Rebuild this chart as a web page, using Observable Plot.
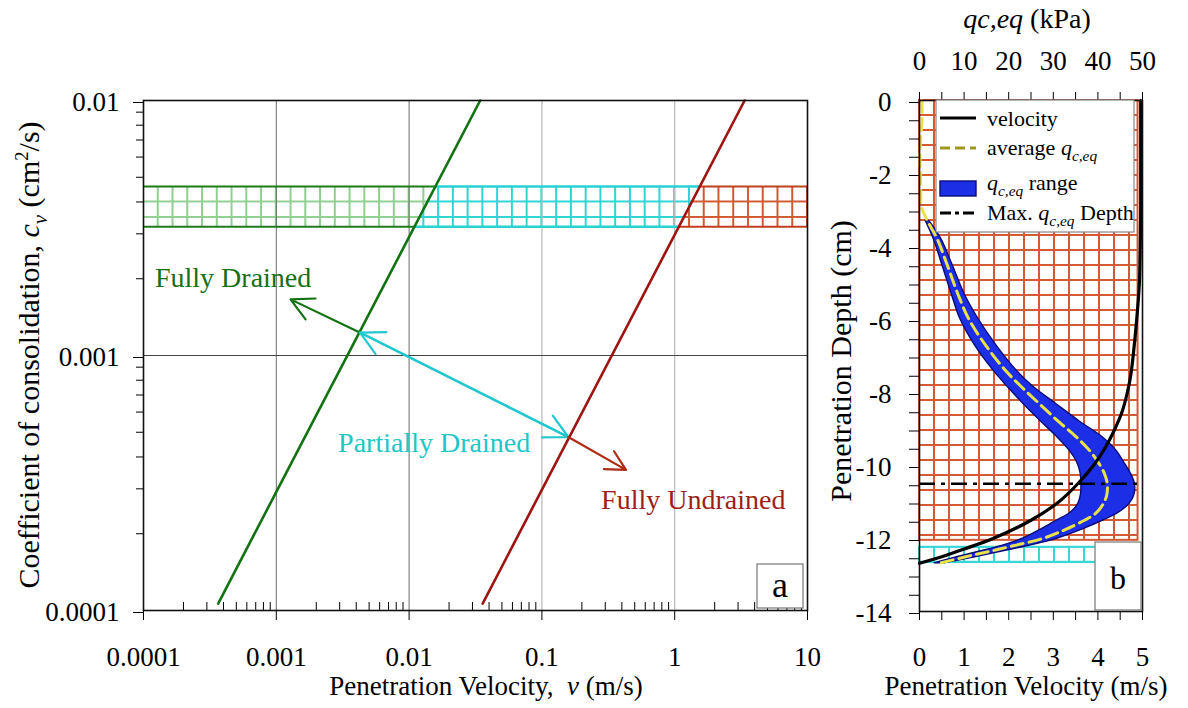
<!DOCTYPE html>
<html><head><meta charset="utf-8">
<script src="https://cdn.jsdelivr.net/npm/d3@7"></script>
<script src="https://cdn.jsdelivr.net/npm/@observablehq/plot@0.6"></script>
<style>
body{margin:0;background:#fff;}
#wrap{position:relative;width:1188px;height:708px;overflow:hidden;background:#fff;}
#wrap svg{position:absolute;top:0;}
</style></head><body><div id="wrap"></div>
<script>
// ---------------- Panel (a) data ----------------
const vTicks = [0.0001, 0.001, 0.01, 0.1, 1, 10];
const vTickLabels = ["0.0001", "0.001", "0.01", "0.1", "1", "10"];
const cvTicks = [0.0001, 0.001, 0.01];
const cvTickLabels = ["0.0001", "0.001", "0.01"];
const drainedLineV = [0.000365, 0.0343];
const drainedLineCv = [0.0001065, 0.01];
const undrainedLineV = [0.0358, 3.36];
const undrainedLineCv = [0.0001065, 0.01];
const bandCv = [0.0032, 0.0046];
const gridDarkV = [0.001, 0.01];
const gridLightV = [0.1, 1];
const gridCv = [0.001];
const annotationLabels = ["Fully Drained", "Partially Drained", "Fully Undrained"];
const annotationV = [0.000122, 0.00292, 0.279];
const annotationCv = [0.00202, 0.000452, 0.00027];
const annotationColors = ["#167016", "#22c6c6", "#a01e18"];
const arrowColorKey = ["green", "cyan", "cyan", "red"];
const arrowV1 = [0.00414, 0.00427, 0.158, 0.158];
const arrowCv1 = [0.00124, 0.00123, 0.000479, 0.000479];
const arrowV2 = [0.00128, 0.158, 0.00427, 0.43];
const arrowCv2 = [0.00166, 0.000479, 0.00123, 0.000356];

// ---------------- Panel (b) data ----------------
const velTicks = [0, 1, 2, 3, 4, 5];
const velTickLabels = ["0", "1", "2", "3", "4", "5"];
const qcTickLabels = ["0", "10", "20", "30", "40", "50"];
const qcPerVelocityUnit = 10;
const depthTicks = [0, -2, -4, -6, -8, -10, -12, -14];
const depthTickLabels = ["0", "-2", "-4", "-6", "-8", "-10", "-12", "-14"];
const velDepth = [0, -1, -2, -3, -4, -5, -6, -7, -7.5, -8, -8.5, -9, -9.5, -10, -10.5, -11, -11.5, -12, -12.3, -12.5, -12.68];
const velocity = [4.96, 4.96, 4.96, 4.96, 4.95, 4.93, 4.87, 4.79, 4.74, 4.66, 4.55, 4.38, 4.17, 3.9, 3.55, 3.12, 2.5, 1.65, 0.97, 0.5, 0];
const qcDepth = [0, -0.5, -1, -1.5, -2, -2.5, -2.9, -3.3, -3.8, -4.5, -5.3, -6, -6.7, -7.4, -7.85, -8.3, -8.8, -9.2, -9.6, -9.9, -10.2, -10.5, -10.8, -11.05, -11.3, -11.5, -11.75, -12, -12.2, -12.35, -12.5, -12.68];
const qcAverage = [0.5, 0.6, 0.3, 0.1, 0.2, 0.3, 0.4, 1.8, 4.0, 6.2, 8.6, 11.1, 14.8, 19.3, 22.9, 26.8, 31.2, 35.0, 38.2, 40.0, 41.4, 42.1, 42.0, 41.2, 39.6, 37.0, 32.8, 27.6, 21.0, 15.8, 10.4, 4.4];
const rangeDepth = [-3.3, -3.8, -4.5, -5.3, -6, -6.7, -7.4, -7.85, -8.3, -8.8, -9.2, -9.6, -9.9, -10.2, -10.5, -10.8, -11.05, -11.3, -11.5, -11.75, -12, -12.2, -12.35, -12.5, -12.68];
const qcLow = [1.4, 3.2, 5.1, 7.2, 9.2, 12.4, 16.6, 19.8, 23.2, 27.3, 30.7, 33.7, 35.3, 36.1, 36.3, 36.2, 35.6, 33.8, 30.9, 27.3, 23.3, 18.5, 13.8, 8.8, 3.4];
const qcHigh = [2.2, 4.9, 7.4, 10.1, 13.3, 17.2, 21.8, 25.6, 30.5, 36.0, 40.8, 44.2, 45.8, 47.3, 48.3, 48.2, 47.1, 44.6, 41.3, 36.6, 31.0, 24.6, 18.8, 13.0, 5.6];
const maxQcDepth = -10.5;
const zoneTop = [0, -12.24];
const zoneBottom = [-12.05, -12.66];
const zoneVmax = [4.9, 4.9];

// ---------------- helpers ----------------
const FONT = '"Liberation Serif", "Times New Roman", serif';
const NS = "http://www.w3.org/2000/svg";
const wrap = document.getElementById("wrap");

function addHatch(svg, id, color, x0, y0, w, h, sw) {
  let defs = svg.querySelector("defs");
  if (!defs) { defs = document.createElementNS(NS, "defs"); svg.insertBefore(defs, svg.firstChild); }
  const p = document.createElementNS(NS, "pattern");
  p.setAttribute("id", id);
  p.setAttribute("patternUnits", "userSpaceOnUse");
  p.setAttribute("x", x0 - sw / 2); p.setAttribute("y", y0 - sw / 2);
  p.setAttribute("width", w); p.setAttribute("height", h);
  const path = document.createElementNS(NS, "path");
  path.setAttribute("d", `M${sw / 2},0V${h}M0,${sw / 2}H${w}`);
  path.setAttribute("stroke", color); path.setAttribute("stroke-width", sw); path.setAttribute("fill", "none");
  p.appendChild(path); defs.appendChild(p);
}

function richText(svg, x, y, parts, {size, anchor = "middle", rotate = 0, fill = "#000"}) {
  const t = d3.select(svg).append("text").attr("x", x).attr("y", y).attr("text-anchor", anchor)
    .attr("font-family", FONT).attr("font-size", size).attr("fill", fill).style("white-space", "pre");
  if (rotate) t.attr("transform", `rotate(${rotate},${x},${y})`);
  let shift = 0;
  for (const p of parts) {
    const s = t.append("tspan").text(p.t);
    let target = 0, fs = size;
    if (p.sub) { target = size * 0.28; fs = size * 0.7; }
    if (p.sup) { target = -size * 0.38; fs = size * 0.62; }
    s.attr("font-size", fs);
    if (target !== shift) { s.attr("dy", target - shift); shift = target; }
    if (p.i) s.attr("font-style", "italic");
  }
  return t;
}

// ---------------- Panel (a) ----------------
const logInterp = (xs, ys) => (y) => {
  const t = (Math.log10(y) - Math.log10(ys[0])) / (Math.log10(ys[1]) - Math.log10(ys[0]));
  return 10 ** (Math.log10(xs[0]) + t * (Math.log10(xs[1]) - Math.log10(xs[0])));
};
const drainedAt = logInterp(drainedLineV, drainedLineCv);
const undrainedAt = logInterp(undrainedLineV, undrainedLineCv);
const vMin = vTicks[0], vMax = vTicks[vTicks.length - 1];
const bandRows = bandCv.map(cv => ({cv, a: vMin, b: drainedAt(cv), c: undrainedAt(cv), d: vMax}));
const drainedLine = drainedLineV.map((v, i) => ({v, cv: drainedLineCv[i]}));
const undrainedLine = undrainedLineV.map((v, i) => ({v, cv: undrainedLineCv[i]}));
const annotations = annotationLabels.map((t, i) => ({t, v: annotationV[i], cv: annotationCv[i], color: annotationColors[i]}));
const arrows = arrowColorKey.map((k, i) => ({k, x1: arrowV1[i], y1: arrowCv1[i], x2: arrowV2[i], y2: arrowCv2[i]}));
const minorV = [];
for (let e = -4; e < 1; e++) for (let m = 2; m <= 9; m++) minorV.push(m * 10 ** e);
const minorCv = [];
for (let e = -4; e < -2; e++) for (let m = 2; m <= 9; m++) minorCv.push(m * 10 ** e);

const AW = 830, AH = 708, AL = 143, AR = 23, AT = 100, AB = 98;
const plotA = Plot.plot({
  width: AW, height: AH, marginLeft: AL, marginRight: AR, marginTop: AT, marginBottom: AB,
  style: {fontFamily: FONT, fontSize: "27px", color: "#000", background: "transparent", overflow: "visible"},
  x: {type: "log", domain: [vMin, vMax], label: null},
  y: {type: "log", domain: [cvTicks[0], cvTicks[cvTicks.length - 1]], label: null},
  marks: [
    Plot.areaX(bandRows, {y: "cv", x1: "a", x2: "b", fill: "url(#hatchA-green)"}),
    Plot.areaX(bandRows, {y: "cv", x1: "b", x2: "c", fill: "url(#hatchA-cyan)"}),
    Plot.areaX(bandRows, {y: "cv", x1: "c", x2: "d", fill: "url(#hatchA-red)"}),
    Plot.ruleX(gridDarkV, {stroke: "#6a6a6a", strokeWidth: 1}),
    Plot.ruleX(gridLightV, {stroke: "#b8b8b8", strokeWidth: 1.2}),
    Plot.ruleY(gridCv, {stroke: "#444", strokeWidth: 1}),
    Plot.ruleY(bandRows, {y: "cv", x1: "a", x2: "b", stroke: "#1d7a1d", strokeWidth: 2}),
    Plot.ruleY(bandRows, {y: "cv", x1: "b", x2: "c", stroke: "#28d2d2", strokeWidth: 2.5}),
    Plot.ruleY(bandRows, {y: "cv", x1: "c", x2: "d", stroke: "#c0401e", strokeWidth: 2}),
    Plot.line(drainedLine, {x: "v", y: "cv", stroke: "#127212", strokeWidth: 2.6}),
    Plot.line(undrainedLine, {x: "v", y: "cv", stroke: "#9e1410", strokeWidth: 2.6}),
    Plot.arrow(arrows.filter(d => d.k === "green"), {x1: "x1", y1: "y1", x2: "x2", y2: "y2", stroke: "#127212", strokeWidth: 2.2, headLength: 18, headAngle: 55}),
    Plot.arrow(arrows.filter(d => d.k === "cyan"), {x1: "x1", y1: "y1", x2: "x2", y2: "y2", stroke: "#22c8d0", strokeWidth: 2.2, headLength: 18, headAngle: 55}),
    Plot.arrow(arrows.filter(d => d.k === "red"), {x1: "x1", y1: "y1", x2: "x2", y2: "y2", stroke: "#b02a14", strokeWidth: 2.2, headLength: 18, headAngle: 55}),
    Plot.text(annotations, {x: "v", y: "cv", text: "t", fill: "color", textAnchor: "start", fontSize: 28}),
    Plot.ruleX(minorV, {insetTop: AH - AT - AB - 8, stroke: "#000", strokeWidth: 1}),
    Plot.frame({stroke: "#111", strokeWidth: 1.6}),
    Plot.axisX(vTicks, {tickFormat: d => vTickLabels[vTicks.indexOf(d)], tickSize: 10, tickPadding: 26, fontSize: 27, label: null}),
    Plot.axisY(cvTicks, {tickFormat: d => cvTickLabels[cvTicks.indexOf(d)], tickSize: 10, tickPadding: 14, fontSize: 27, dy: 2, label: null}),
    Plot.axisY(minorCv, {tickFormat: () => "", tickSize: 7, label: null})
  ]
});
plotA.style.left = "0px";
wrap.appendChild(plotA);
{
  const ys = plotA.scale("y"), xs = plotA.scale("x");
  const yTop = ys.apply(bandCv[1]);
  const decadePx = xs.apply(vTicks[1]) - xs.apply(vTicks[0]);
  addHatch(plotA, "hatchA-green", "#8fd08f", AL, yTop, decadePx / 9, 15.5, 2);
  addHatch(plotA, "hatchA-cyan", "#2fd4d4", AL, yTop, decadePx / 9, 15.5, 2);
  addHatch(plotA, "hatchA-red", "#cf5a32", AL, yTop, decadePx / 9, 15.5, 2);
  // panel label box "a"
  const g = d3.select(plotA).append("g");
  g.append("rect").attr("x", 757).attr("y", 564).attr("width", 46).attr("height", 44)
    .attr("fill", "#fff").attr("stroke", "#777").attr("stroke-width", 1.2);
  richText(plotA, 780, 597, [{t: "a"}], {size: 36});
  // axis titles
  richText(plotA, 486, 695, [{t: "Penetration Velocity,  "}, {t: "v", i: true}, {t: " (m/s)"}], {size: 27});
  richText(plotA, 39, 355, [
    {t: "Coefficient of consolidation, "}, {t: "c", i: true}, {t: "v", i: true, sub: true},
    {t: " (cm"}, {t: "2", sup: true}, {t: "/s)"}], {size: 30, rotate: -90});
}

// ---------------- Panel (b) ----------------
const velRows = velDepth.map((d, i) => ({depth: d, v: velocity[i]}));
const avgRows = qcDepth.map((d, i) => ({depth: d, qc: qcAverage[i]}));
const rangeRows = rangeDepth.map((d, i) => ({depth: d, lo: qcLow[i], hi: qcHigh[i]}));
const zones = zoneTop.map((t, i) => ({top: t, bottom: zoneBottom[i], x1: velTicks[0], x2: zoneVmax[i]}));
const halfVel = d3.range(0, 5.001, 0.5);
const halfDepth = d3.range(0, -14.001, -0.5);

const BX = 800, BW = 388, BL = 119, BR = 46, BT = 100, BB = 97;
const plotB = Plot.plot({
  width: BW, height: 708, marginLeft: BL, marginRight: BR, marginTop: BT, marginBottom: BB,
  style: {fontFamily: FONT, fontSize: "27px", color: "#000", background: "transparent", overflow: "visible"},
  x: {domain: [velTicks[0], velTicks[velTicks.length - 1]], label: null},
  y: {domain: [depthTicks[depthTicks.length - 1], depthTicks[0]], label: null},
  marks: [
    Plot.rect(zones.slice(0, 1), {x1: "x1", x2: "x2", y1: "bottom", y2: "top", fill: "url(#hatchB-red)", stroke: "#d45a35", strokeWidth: 2}),
    Plot.rect(zones.slice(1, 2), {x1: "x1", x2: "x2", y1: "bottom", y2: "top", fill: "url(#hatchB-cyan)", stroke: "#3ad6d6", strokeWidth: 2}),
    Plot.areaX(rangeRows, {y: "depth", x1: d => d.lo / qcPerVelocityUnit, x2: d => d.hi / qcPerVelocityUnit, fill: "#1c2fe6", stroke: "#0c0c78", strokeWidth: 1.4, curve: "catmull-rom"}),
    Plot.line(avgRows, {x: d => d.qc / qcPerVelocityUnit, y: "depth", stroke: "#e9e14a", strokeWidth: 3, strokeDasharray: "12,6", curve: "catmull-rom"}),
    Plot.line(velRows, {x: "v", y: "depth", stroke: "#000", strokeWidth: 3.2, curve: "catmull-rom"}),
    Plot.ruleY([maxQcDepth], {stroke: "#000", strokeWidth: 2.6, strokeDasharray: "16,6,4,6"}),
    Plot.frame({stroke: "#111", strokeWidth: 1.6}),
    Plot.axisX(halfVel, {anchor: "bottom", tickFormat: d => { const k = velTicks.indexOf(d); return k >= 0 ? velTickLabels[k] : ""; }, tickSize: 9, tickPadding: 26, fontSize: 27, label: null}),
    Plot.axisX(halfVel, {anchor: "top", tickFormat: d => { const k = velTicks.indexOf(d); return k >= 0 ? qcTickLabels[k] : ""; }, tickSize: 9, tickPadding: 22, fontSize: 27, label: null}),
    Plot.axisY(halfDepth, {tickFormat: d => { const k = depthTicks.indexOf(d); return k >= 0 ? depthTickLabels[k] : ""; }, tickSize: 10, tickPadding: 18, fontSize: 27, dy: 2, label: null})
  ]
});
plotB.style.left = BX + "px";
wrap.appendChild(plotB);
{
  const ys = plotB.scale("y");
  addHatch(plotB, "hatchB-red", "#d45a35", BL, BT, 15, 15, 2);
  addHatch(plotB, "hatchB-cyan", "#3ad6d6", BL, ys.apply(zoneTop[1]), 15, 15, 2);
  const g = d3.select(plotB).append("g");
  // legend
  g.append("rect").attr("x", 136).attr("y", 100).attr("width", 198).attr("height", 132)
    .attr("fill", "#fff").attr("stroke", "#888").attr("stroke-width", 1.2);
  g.append("line").attr("x1", 140).attr("x2", 176).attr("y1", 118).attr("y2", 118).attr("stroke", "#000").attr("stroke-width", 3);
  g.append("line").attr("x1", 140).attr("x2", 176).attr("y1", 148).attr("y2", 148).attr("stroke", "#9c9820").attr("stroke-width", 3).attr("stroke-dasharray", "10,5");
  g.append("rect").attr("x", 140).attr("y", 181).attr("width", 36).attr("height", 15).attr("fill", "#1c2fe6").attr("stroke", "#0c0c78").attr("stroke-width", 1.4);
  g.append("line").attr("x1", 140).attr("x2", 176).attr("y1", 213).attr("y2", 213).attr("stroke", "#000").attr("stroke-width", 3).attr("stroke-dasharray", "11,4,4,4");
  const L = 22;
  richText(plotB, 187, 126, [{t: "velocity"}], {size: L, anchor: "start"});
  richText(plotB, 187, 155, [{t: "average "}, {t: "q", i: true}, {t: "c,eq", i: true, sub: true}], {size: L, anchor: "start"});
  richText(plotB, 187, 190, [{t: "q", i: true}, {t: "c,eq", i: true, sub: true}, {t: " range"}], {size: L, anchor: "start"});
  richText(plotB, 187, 220, [{t: "Max. "}, {t: "q", i: true}, {t: "c,eq", i: true, sub: true}, {t: " Depth"}], {size: L, anchor: "start"});
  // panel label box "b"
  g.append("rect").attr("x", 295).attr("y", 542).attr("width", 46).attr("height", 68)
    .attr("fill", "#fff").attr("stroke", "#777").attr("stroke-width", 1.2);
  richText(plotB, 318, 589, [{t: "b"}], {size: 32});
  // titles
  richText(plotB, 227, 28, [{t: "q", i: true}, {t: "c,eq", i: true}, {t: " (kPa)"}], {size: 28});
  richText(plotB, 226, 695, [{t: "Penetration Velocity (m/s)"}], {size: 27});
  richText(plotB, 51, 361, [{t: "Penetration Depth (cm)"}], {size: 30, rotate: -90});
}
</script></body></html>
